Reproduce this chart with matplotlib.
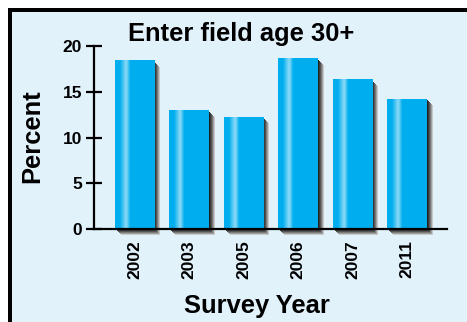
import numpy as np
import matplotlib.pyplot as plt
from matplotlib.patches import Rectangle
from matplotlib.colors import LinearSegmentedColormap

years = ['2002', '2003', '2005', '2006', '2007', '2011']
percent = [18.4, 12.9, 12.2, 18.6, 16.3, 14.2]

W, H = 467, 322
plt.rcParams['font.family'] = ['Liberation Sans', 'DejaVu Sans']
plt.rcParams['font.weight'] = 'bold'

fig = plt.figure(figsize=(W / 100, H / 100), dpi=100)
fig.patch.set_facecolor('white')

# panel: black frame on top/left, light blue fill
fig.patches.append(Rectangle((8 / W, 0), 1, (H - 8) / H, transform=fig.transFigure,
                             facecolor='black', edgecolor='none', zorder=-2))
fig.patches.append(Rectangle((12 / W, 0), 1, (H - 12) / H, transform=fig.transFigure,
                             facecolor='#e2f2fb', edgecolor='none', zorder=-1))

ax = fig.add_axes([94 / W, (H - 229) / H, (447 - 94) / W, (229 - 46) / H])
ax.set_facecolor('none')

px_x = 1 / 54.5   # data units per pixel, horizontal
px_y = 20 / 183   # data units per pixel, vertical
width = 0.716

# horizontal shading profile across each bar (highlight stripe)
bar_cmap = LinearSegmentedColormap.from_list(
    'bar', [(0, '#00aeef'), (0.12, '#00aeef'), (0.22, '#5ccbf4'), (0.28, '#8fdbf7'),
            (0.38, '#00aeef'), (1, '#00aeef')])
profile = np.linspace(0, 1, 80).reshape(1, -1)

shadow_grays = ['#202020', '#3a3a3a', '#555555', '#7a7a7a', '#a0a0a0', '#c8c8c8']

for i, v in enumerate(percent):
    x0 = i - width / 2
    # stepped drop shadow down-right of each bar
    for k in range(len(shadow_grays), 0, -1):
        ax.add_patch(Rectangle((x0 + k * px_x, -k * px_y), width, v,
                               facecolor=shadow_grays[k - 1], edgecolor='none',
                               zorder=1, clip_on=False))
    ax.imshow(profile, cmap=bar_cmap, aspect='auto', extent=(x0, x0 + width, 0, v),
              zorder=2, interpolation='bilinear')

ax.set_xlim(-0.743, 5.734)
ax.set_ylim(0, 20)

for s in ['top', 'right']:
    ax.spines[s].set_visible(False)
for s in ['left', 'bottom']:
    ax.spines[s].set_linewidth(1.6)
    ax.spines[s].set_zorder(5)

ax.set_yticks([0, 5, 10, 15, 20])
ax.tick_params(axis='y', direction='inout', length=11, width=1.6, pad=3, labelsize=12.5)
ax.set_xticks(range(len(years)))
ax.set_xticklabels(years, rotation=90)
ax.tick_params(axis='x', length=0, pad=8, labelsize=12.5)

fig.text(241 / W, (H - 41) / H, 'Enter field age 30+', ha='center', va='baseline',
         fontsize=18.4, fontweight='bold')
fig.text(257 / W, (H - 313) / H, 'Survey Year', ha='center', va='baseline',
         fontsize=18.4, fontweight='bold')
fig.text(32.5 / W, (H - 136) / H, 'Percent', ha='center', va='center', rotation=90,
         fontsize=18.4, fontweight='bold')

fig.savefig('out.png', dpi=100)
